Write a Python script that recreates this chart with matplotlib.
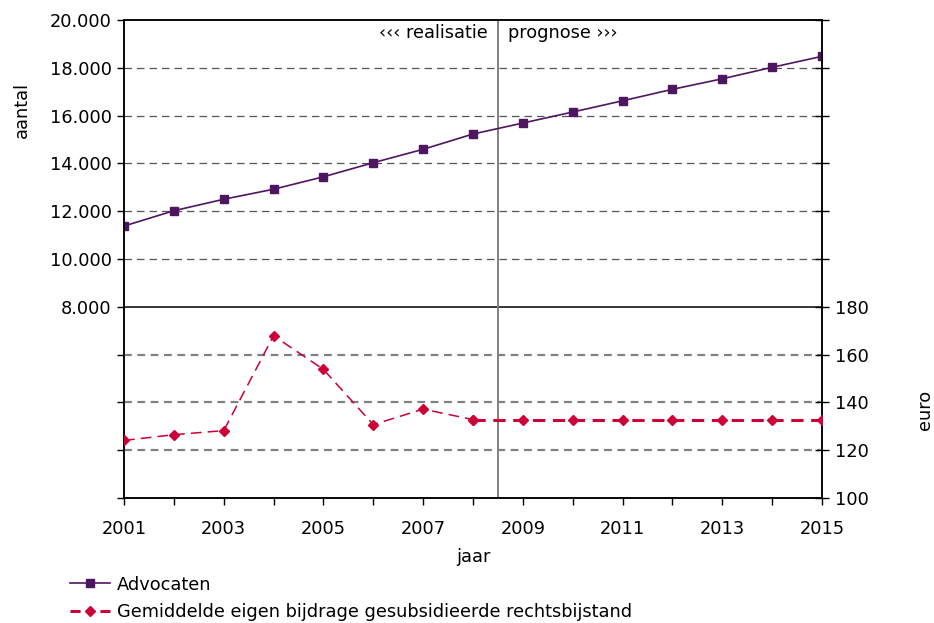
import numpy as np
import matplotlib.pyplot as plt
from matplotlib.lines import Line2D

plt.rcParams['font.family'] = 'DejaVu Sans'
plt.rcParams['font.size'] = 12.8

years = np.arange(2001, 2016)
advocaten = [11380, 12020, 12500, 12920, 13440, 14030, 14590, 15230,
             15690, 16150, 16620, 17100, 17540, 18020, 18480]
eigen_bijdrage = [124.1, 126.5, 128.2, 167.9, 153.8, 130.7, 137.2, 132.8,
                  132.8, 132.8, 132.8, 132.8, 132.8, 132.8, 132.8]
last_realised = 2008

purple = '#4E1660'
red = '#CC0036'

fig = plt.figure(figsize=(9.34, 6.23), dpi=100)
ax = fig.add_axes([0.1328, 0.2006, 0.7473, 0.7673])
ax.set_xlim(2001, 2015)
ax.set_ylim(0, 20000)
ax2 = ax.twinx()
ax2.set_ylim(100, 300)

# gridlines
for v in range(10000, 20000, 2000):
    ax.axhline(v, color='#555555', lw=0.9, ls=(0, (6, 4)), zorder=1)
ax.axhline(8000, color='black', lw=1.1, zorder=1)
for v in (120, 140, 160):
    ax2.axhline(v, color='#808080', lw=1.6, ls=(0, (3.5, 2.5)), zorder=1)
ax.axvline(2008.5, color='#808080', lw=1.4, zorder=1)

# Advocaten
ax.plot(years, advocaten, color=purple, lw=1.2, marker='s', markersize=6, zorder=3)

# eigen bijdrage: realised thin, prognosis thick
mask_r = years <= last_realised
mask_p = years >= last_realised
ax2.plot(years[mask_r], np.array(eigen_bijdrage)[mask_r], color=red, lw=1.1,
         ls=(0, (7, 4)), marker='D', markersize=5, zorder=3)
ax2.plot(years[mask_p], np.array(eigen_bijdrage)[mask_p], color=red, lw=2.2,
         ls=(0, (4, 2.5)), marker='D', markersize=5, zorder=3)

# ticks
ax.set_xticks(years)
ax.set_xticklabels([str(y) if y % 2 == 1 else '' for y in years])
left_ticks = list(range(0, 20001, 2000))
ax.set_yticks(left_ticks)
ax.set_yticklabels([f'{v:,}'.replace(',', '.') if v >= 8000 else '' for v in left_ticks])
right_ticks = list(range(100, 301, 20))
ax2.set_yticks(right_ticks)
ax2.set_yticklabels([str(v) if v <= 180 else '' for v in right_ticks])
ax.tick_params(axis='both', direction='out', length=5, width=1, colors='black', pad=4)
ax.tick_params(axis='x', pad=11)
ax2.tick_params(axis='y', direction='inout', length=10, width=1, pad=4)

for a in (ax, ax2):
    for s in a.spines.values():
        s.set_color('black')
        s.set_linewidth(1.1)

ax.text(2008.3, 19450, '‹‹‹ realisatie', ha='right', va='center')
ax.text(2008.7, 19450, 'prognose ›››', ha='left', va='center')

fig.text(0.0235, 0.823, 'aantal', rotation=90, ha='center', va='center')
fig.text(0.990, 0.342, 'euro', rotation=90, ha='center', va='center')
fig.text(0.5065, 0.106, 'jaar', ha='center', va='center')

handles = [
    Line2D([], [], color=purple, lw=1.2, marker='s', markersize=6),
    Line2D([], [], color=red, lw=2.2, ls=(0, (3.3, 6.5)), marker='D', markersize=5),
]
labels = ['Advocaten', 'Gemiddelde eigen bijdrage gesubsidieerde rechtsbijstand']
fig.legend(handles, labels, loc='upper left', bbox_to_anchor=(0.075, 0.076),
           frameon=False, handlelength=2.25, handletextpad=0.4,
           labelspacing=0.55, borderpad=0, borderaxespad=0)

fig.savefig('out.png', dpi=100)
